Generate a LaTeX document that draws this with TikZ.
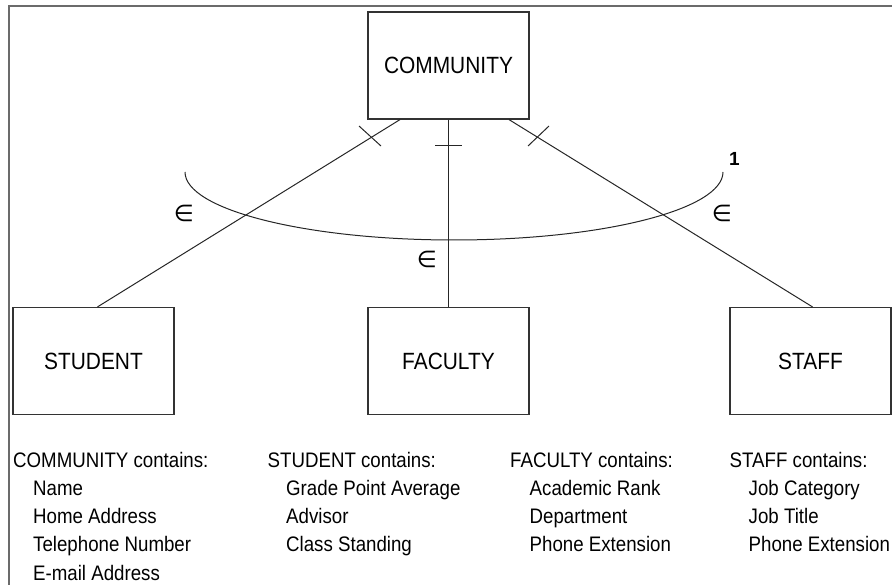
\documentclass[tikz,border=0pt]{standalone}
\usepackage{fontspec}
\setmainfont{Liberation Sans}[FakeStretch=0.89]
\newfontfamily\symfont{DejaVu Sans}
\newfontfamily\boldone{Liberation Sans Bold}
\begin{document}
\begin{tikzpicture}[x=1pt,y=-1pt,
  box/.style={draw=black!80, line width=1.2pt, minimum width=161pt, minimum height=107pt, inner sep=0pt, font=\fontsize{23.5}{26}\selectfont},
  link/.style={draw=black!85, line width=1pt},
  lst/.style={anchor=base west, inner sep=0pt, font=\fontsize{21}{24}\selectfont},
  elem/.style={font=\symfont\fontsize{23}{24}\selectfont, inner sep=0pt}]
\useasboundingbox (0,0) rectangle (892,585);
% frame
\draw[draw=black!58, line width=2pt] (8.5,585) -- (8.5,6) -- (892,6);
% boxes
\node[box] (comm) at (448.5,65.5) {COMMUNITY};
\node[box] (stud) at (93.5,361) {STUDENT};
\node[box] (fac) at (448.5,361) {FACULTY};
\node[box] (staff) at (810.5,361) {STAFF};
% connectors
\draw[link] ([xshift=-48.5pt]comm.south) -- ([xshift=4pt]stud.north);
\draw[link] (comm.south) -- (fac.north);
\draw[link] ([xshift=60.5pt]comm.south) -- ([xshift=2pt]staff.north);
% ticks
\draw[link] (359,126) -- (381,146);
\draw[link] (435,146) -- (462,146);
\draw[link] (528,146) -- (549,126);
% arc
\draw[link] (185,172) arc[start angle=180,end angle=360,x radius=269pt,y radius=68pt];
% labels
\node[elem] (e1) at (184,213) {∈};
\node[elem] (e2) at (427,259) {∈};
\node[elem] (e3) at (722,213) {∈};
\node[font=\boldone\fontsize{19}{20}\selectfont, inner sep=0pt] (one) at (734.5,158.5) {1};
% lists
\node[lst] (c1h) at (13,467) {COMMUNITY contains:};
\node[lst] (c1a) at (33,495.3) {Name};
\node[lst] (c1b) at (33,523.6) {Home Address};
\node[lst] (c1c) at (33,551.9) {Telephone Number};
\node[lst] (c1d) at (33,580.2) {E-mail Address};
\node[lst] (c2h) at (267.5,467) {STUDENT contains:};
\node[lst] (c2a) at (286,495.3) {Grade Point Average};
\node[lst] (c2b) at (286,523.6) {Advisor};
\node[lst] (c2c) at (286,551.9) {Class Standing};
\node[lst] (c3h) at (510,467) {FACULTY contains:};
\node[lst] (c3a) at (529.5,495.3) {Academic Rank};
\node[lst] (c3b) at (529.5,523.6) {Department};
\node[lst] (c3c) at (529.5,551.9) {Phone Extension};
\node[lst] (c4h) at (729.5,467) {STAFF contains:};
\node[lst] (c4a) at (748.5,495.3) {Job Category};
\node[lst] (c4b) at (748.5,523.6) {Job Title};
\node[lst] (c4c) at (748.5,551.9) {Phone Extension};
\end{tikzpicture}
\end{document}
